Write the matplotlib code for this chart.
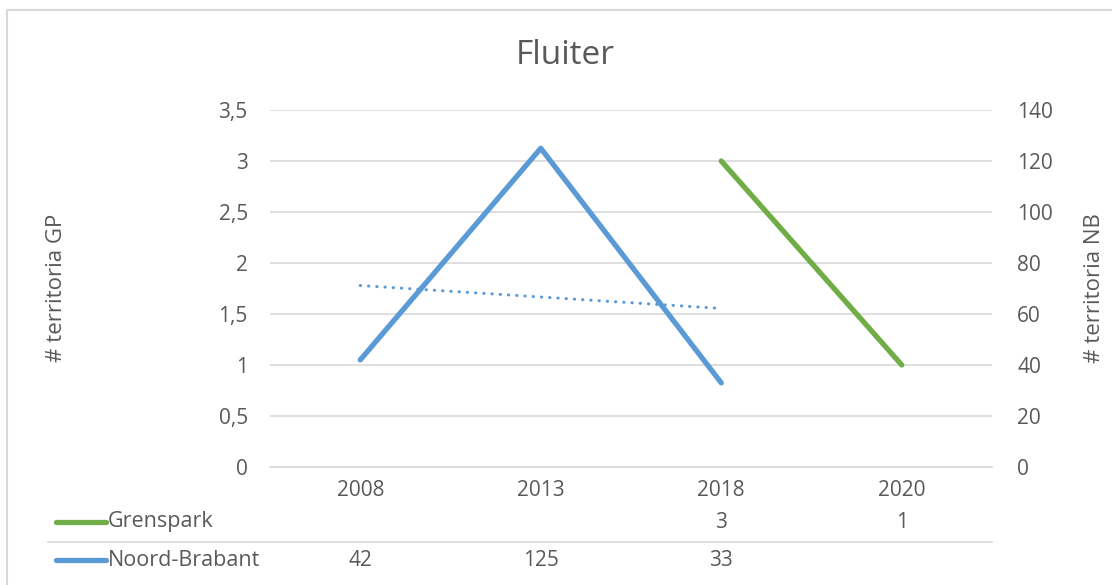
import numpy as np
import matplotlib
matplotlib.use("Agg")
import matplotlib.pyplot as plt
from matplotlib.transforms import blended_transform_factory
from matplotlib.lines import Line2D

# Data
years = ["2008", "2013", "2018", "2020"]
grenspark = [np.nan, np.nan, 3, 1]          # left axis: # territoria GP
noord_brabant = [42, 125, 33, np.nan]       # right axis: # territoria NB
left_ticks = [0, 0.5, 1, 1.5, 2, 2.5, 3, 3.5]
right_ticks = [0, 20, 40, 60, 80, 100, 120, 140]

GREEN = "#70AD47"
BLUE = "#5B9BD5"
TXT = "#595959"
GRID = "#D9D9D9"
FS = 15
LW = 3.8

plt.rcParams['font.family'] = ['Open Sans', 'DejaVu Sans']

W, H = 1112, 585
fig = plt.figure(figsize=(W / 100, H / 100), dpi=100)
ax = fig.add_axes([270 / W, 1 - 467 / H, (992 - 270) / W, (467 - 110) / H])
ax2 = ax.twinx()

x = np.arange(len(years))

# GP on primary axis
ax.plot(x, grenspark, color=GREEN, lw=LW, solid_capstyle="round")
# NB on secondary axis + linear trendline
ax2.plot(x, noord_brabant, color=BLUE, lw=LW, solid_capstyle="round")
nb = np.array(noord_brabant, dtype=float)
ok = ~np.isnan(nb)
k, b = np.polyfit(x[ok] + 1, nb[ok], 1)
xt = x[ok]
ax2.plot(xt, k * (xt + 1) + b, color=BLUE, lw=2.2, ls=(0, (0.1, 2.6)), dash_capstyle="round")

ax.set_xlim(-0.5, len(years) - 0.5)
ax.set_ylim(0, 3.5)
ax2.set_ylim(0, 140)
ax.set_yticks(left_ticks)
ax.set_yticklabels([("%g" % v).replace(".", ",") for v in left_ticks])
ax2.set_yticks(right_ticks)
ax.set_xticks(x)
ax.set_xticklabels(years)
ax.grid(axis="y", color=GRID, lw=1.2)
ax.set_axisbelow(True)
for a in (ax, ax2):
    for s in a.spines.values():
        s.set_visible(False)
    a.tick_params(length=0, colors=TXT, labelsize=FS)
ax.tick_params(axis="y", pad=16)
ax2.tick_params(axis="y", pad=18)
ax.tick_params(axis="x", pad=9)
ax.spines["bottom"].set_visible(True)
ax.spines["bottom"].set_color(GRID)
ax.spines["bottom"].set_linewidth(1.2)
for lab in ax2.get_yticklabels():
    lab.set_horizontalalignment("left")

fig.text(565 / W, 1 - 55 / H, "Fluiter", ha="center", va="center", fontsize=24, color=TXT)
fig.text(57 / W, 1 - 288 / H, "# territoria GP", rotation=90, ha="center", va="center",
         fontsize=16, color=TXT)
fig.text(1095 / W, 1 - 288 / H, "# territoria NB", rotation=90, ha="center", va="center",
         fontsize=16, color=TXT)

# data table below the chart
tr = blended_transform_factory(ax.transData, fig.transFigure)
rows = [("Grenspark", grenspark, GREEN, 522), ("Noord-Brabant", noord_brabant, BLUE, 560)]
for name, vals, col, yp in rows:
    yf = 1 - yp / H
    fig.add_artist(Line2D([56 / W, 106 / W], [yf, yf], color=col, lw=LW,
                          solid_capstyle="round", transform=fig.transFigure))
    fig.text(108 / W, yf, name, ha="left", va="center", fontsize=FS + 0.5, color=TXT)
    for xi, v in zip(x, vals):
        if not np.isnan(v):
            ax.text(xi, yf, "%d" % v, transform=tr, ha="center", va="center",
                    fontsize=FS, color=TXT)
ysep = 1 - 542 / H
fig.add_artist(Line2D([48 / W, 992 / W], [ysep, ysep], color=GRID, lw=1.2, transform=fig.transFigure))

# chart border (left and top edges visible)
fig.add_artist(Line2D([7 / W, 7 / W, 1.0], [0, 1 - 10 / H, 1 - 10 / H], color=GRID, lw=1.5,
                      transform=fig.transFigure))

fig.savefig("out.png", dpi=100, facecolor="white")
